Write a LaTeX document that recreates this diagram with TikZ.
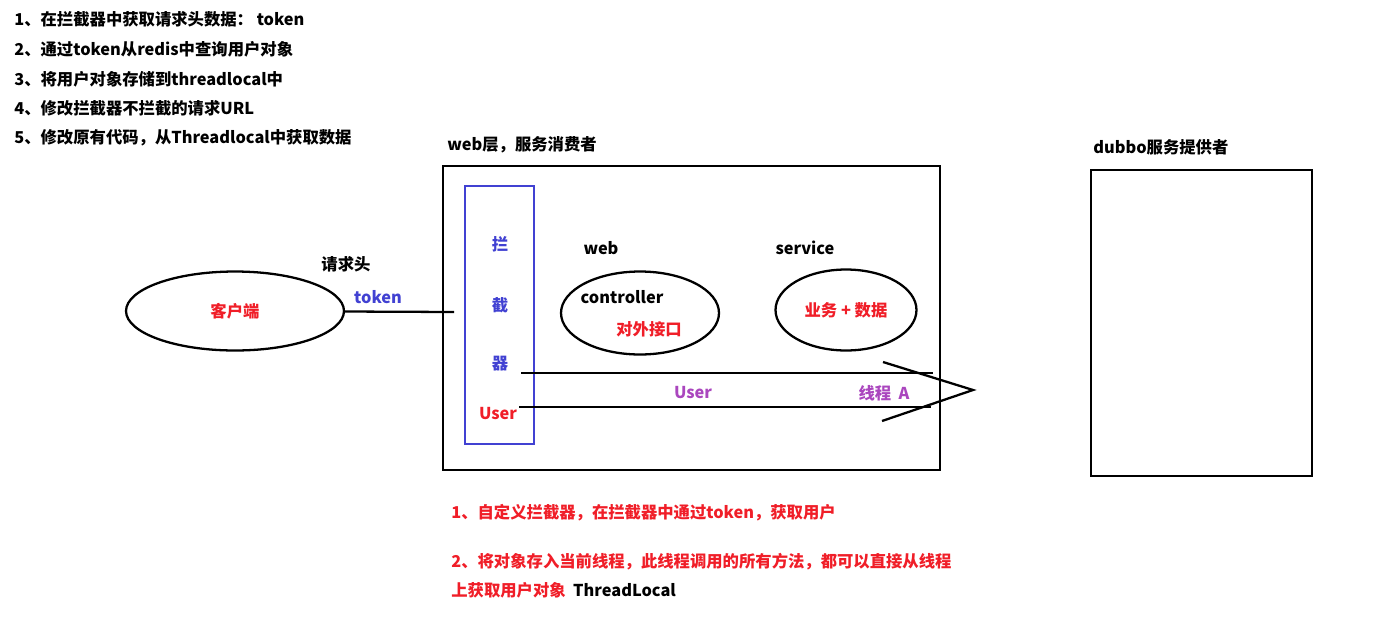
\documentclass[tikz,border=0pt]{standalone}
\usepackage{fontspec}
\setmainfont{Noto Sans CJK SC}
\usetikzlibrary{shapes.geometric}
\definecolor{tokred}{RGB}{240,30,40}
\definecolor{tokblue}{RGB}{65,65,210}
\definecolor{tokpurple}{RGB}{170,70,190}
\tikzset{
  lbl/.style={font=\bfseries\fontsize{9.3}{11}\selectfont, inner sep=0pt},
  frame/.style={rectangle, draw, line width=1.3pt, inner sep=0pt},
  oval/.style={ellipse, draw, line width=1.3pt, inner sep=0pt},
  wire/.style={line width=1.3pt}
}
\begin{document}
\begin{tikzpicture}[x=0.02cm, y=-0.02cm]
\useasboundingbox (0,0) rectangle (1391,619);

% steps, top left
\node[lbl, anchor=west] (step1) at (14,19) {1、在拦截器中获取请求头数据： token};
\node[lbl, anchor=west] (step2) at (14,49) {2、通过token从redis中查询用户对象};
\node[lbl, anchor=west] (step3) at (14,79) {3、将用户对象存储到threadlocal中};
\node[lbl, anchor=west] (step4) at (14,108) {4、修改拦截器不拦截的请求URL};
\node[lbl, anchor=west] (step5) at (14,138) {5、修改原有代码，从Threadlocal中获取数据};

% client
\node[oval, lbl, draw, line width=1.3pt, text=tokred, minimum width=4.36cm, minimum height=1.58cm] (client) at (235,311) {客户端};
\node[lbl] (header) at (346,264) {请求头};
\node[lbl, text=tokblue] (token) at (378,297) {token};
\coordinate (tokenend) at (454,312);

% web layer
\node[lbl, anchor=west] (webtitle) at (447,145) {web层，服务消费者};
\node[frame, minimum width=9.94cm, minimum height=6.08cm] (webbox) at (691.5,318) {};
\node[frame, draw=tokblue, minimum width=1.38cm, minimum height=5.16cm] (guard) at (499.5,315) {};
\node[lbl, text=tokblue] (lan) at (500,244) {拦};
\node[lbl, text=tokblue] (jie) at (500,305) {截};
\node[lbl, text=tokblue] (qi) at (500,364) {器};
\node[lbl, text=tokred] (user) at (498,414) {User};

\node[lbl] (weblbl) at (601,248) {web};
\node[lbl] (servicelbl) at (805,248) {service};
\node[oval, minimum width=3.16cm, minimum height=1.66cm] (controller) at (640,313) {};
\node[lbl] (ctrltext) at (622,297) {controller};
\node[lbl, text=tokred] (api) at (649,329) {对外接口};
\node[oval, lbl, draw, line width=1.3pt, text=tokred, minimum width=2.82cm, minimum height=1.62cm] (service) at (846,310) {业务 + 数据};

% thread
\coordinate (topstart) at (521,373);
\coordinate (topend) at (933,373);
\coordinate (botstart) at (519,407);
\coordinate (botend) at (931,407);
\coordinate (headtop) at (883,362);
\coordinate (headtip) at (973,390);
\coordinate (headbot) at (882,421);
\node[lbl, text=tokpurple] (userflow) at (693,393) {User};
\node[lbl, text=tokpurple] (thread) at (884,393) {线程\ \ A};

% provider
\node[lbl, anchor=west] (dubbotitle) at (1093,147) {dubbo服务提供者};
\node[frame, minimum width=4.42cm, minimum height=6.12cm] (dubbo) at (1201.5,323) {};

% notes
\node[lbl, anchor=west, text=tokred] (note1) at (451,513) {1、自定义拦截器，在拦截器中通过token，获取用户};
\node[lbl, anchor=west, text=tokred] (note2) at (451,562) {2、将对象存入当前线程，此线程调用的所有方法，都可以直接从线程};
\node[lbl, anchor=west, text=tokred] (note3) at (451,590) {上获取用户对象\ \ \textcolor{black}{ThreadLocal}};

\draw[wire] (client) -- (tokenend);
\draw[wire] (topstart) -- (topend);
\draw[wire] (botstart) -- (botend);
\draw[wire] (headtop) -- (headtip) -- (headbot);
\end{tikzpicture}
\end{document}
